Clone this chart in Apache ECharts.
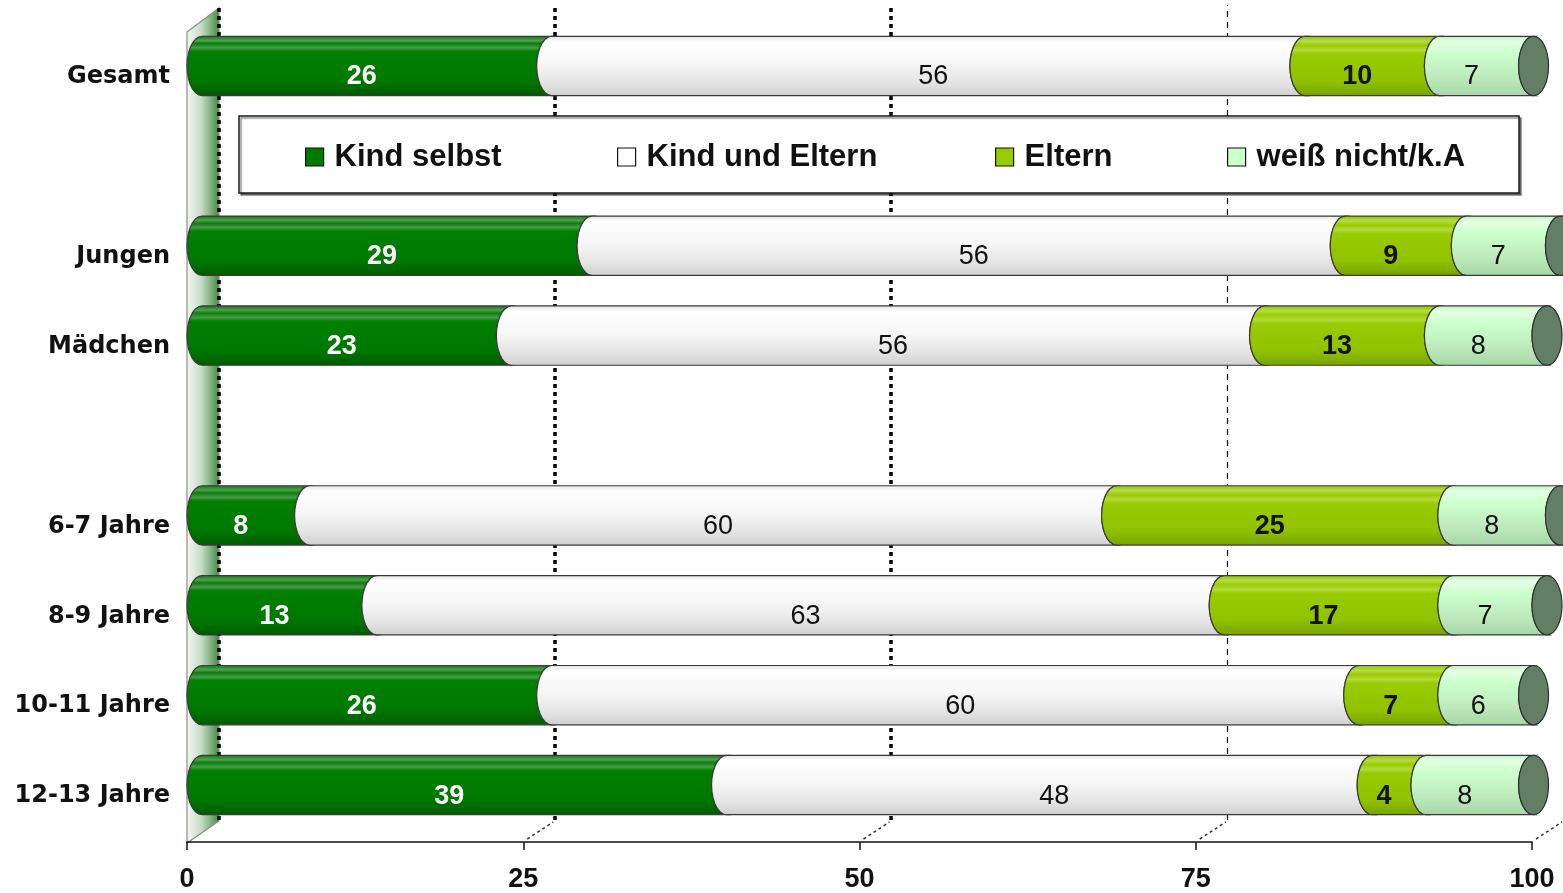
<!DOCTYPE html>
<html>
<head>
<meta charset="utf-8">
<title>Kind selbst / Kind und Eltern / Eltern</title>
<script src="https://cdn.jsdelivr.net/npm/echarts@6/dist/echarts.min.js"></script>
<style>
  html, body { margin: 0; padding: 0; background: #ffffff; }
  #chart { width: 1563px; height: 893px; }
</style>
</head>
<body>
<div id="chart"></div>
<script>
// ---- data ----
const categories = ['Gesamt', ' ', 'Jungen', 'Mädchen', '  ', '6-7 Jahre', '8-9 Jahre', '10-11 Jahre', '12-13 Jahre'];
const seriesNames = ['Kind selbst', 'Kind und Eltern', 'Eltern', 'weiß nicht/k.A'];
const kindSelbst    = [26, null, 29, 23, null, 8, 13, 26, 39];
const kindUndEltern = [56, null, 56, 56, null, 60, 63, 60, 48];
const eltern        = [10, null, 9, 13, null, 25, 17, 7, 4];
const weissNicht    = [7, null, 7, 8, null, 8, 7, 6, 8];
const xTicks = [0, 25, 50, 75, 100];

// ---- styling ----
const seriesValues = [kindSelbst, kindUndEltern, eltern, weissNicht];
const legendColors = ['#007a00', '#ffffff', '#99cc00', '#ccffcc'];
const fills = [
  [[0, '#0f760f'], [0.08, '#4f9f4f'], [0.13, '#0a7f0a'], [0.2, '#479c47'], [0.26, '#018001'], [0.75, '#007800'], [1, '#005a00']],
  [[0, '#e2e2e2'], [0.1, '#ffffff'], [0.45, '#f7f7f7'], [0.78, '#e4e4e4'], [1, '#cfcfcf']],
  [[0, '#8cbf00'], [0.09, '#b6dc45'], [0.16, '#9acb00'], [0.24, '#b2da3c'], [0.3, '#99cc00'], [0.75, '#90c200'], [1, '#75a300']],
  [[0, '#bfeebf'], [0.1, '#e4ffe4'], [0.3, '#ccffcc'], [0.72, '#bce8bc'], [1, '#a6d6a6']]
];
const labelStyles = [
  { fill: '#ffffff', weight: 'bold', dx: 0 },
  { fill: '#111111', weight: 'normal', dx: 20 },
  { fill: '#111111', weight: 'bold', dx: 0 },
  { fill: '#111111', weight: 'normal', dx: 0 }
];
const capColor = '#627f66';
const FONT = '"Liberation Sans", Arial, sans-serif';

// Stack the segments: each item is [categoryIndex, start, end, value]
const stacked = seriesValues.map(() => []);
categories.forEach((c, i) => {
  let acc = 0;
  seriesValues.forEach((vals, s) => {
    const v = vals[i];
    if (v == null) return;
    stacked[s].push([i, acc, acc + v, v]);
    acc += v;
  });
});

const RX = 15; // horizontal radius of the cylinder's elliptical ends

function arcPoints(x, top, bot, downward) {
  const mid = (top + bot) / 2, ry = (bot - top) / 2, pts = [];
  const n = 14;
  for (let k = 0; k <= n; k++) {
    const t = downward ? -Math.PI / 2 + Math.PI * k / n : Math.PI / 2 - Math.PI * k / n;
    pts.push([x + RX - RX * Math.cos(t), mid + ry * Math.sin(t)]);
  }
  return pts;
}

function makeRenderItem(sIdx) {
  return function (params, api) {
    const cat = api.value(0), s = api.value(1), e = api.value(2), v = api.value(3);
    const p0 = api.coord([s, cat]);
    const p1 = api.coord([e, cat]);
    const h = api.size([0, 1])[1] * 0.66;
    const top = p0[1] - h / 2, bot = p0[1] + h / 2, mid = p0[1];
    const pts = arcPoints(p0[0], top, bot, true).concat(arcPoints(p1[0], top, bot, false));
    const children = [{
      type: 'polygon',
      shape: { points: pts },
      style: {
        fill: new echarts.graphic.LinearGradient(0, 0, 0, 1, fills[sIdx].map(st => ({ offset: st[0], color: st[1] }))),
        stroke: '#3a3a3a',
        lineWidth: 1.2
      }
    }];
    if (sIdx === seriesValues.length - 1) {
      children.push({
        type: 'ellipse',
        shape: { cx: p1[0] + RX, cy: mid, rx: RX, ry: h / 2 },
        style: { fill: capColor, stroke: '#2f2f2f', lineWidth: 1.2 }
      });
    }
    const ls = labelStyles[sIdx];
    children.push({
      type: 'text',
      style: {
        text: String(v),
        x: (p0[0] + p1[0]) / 2 + ls.dx,
        y: mid + 11,
        fill: ls.fill,
        font: ls.weight + ' 27px ' + FONT,
        align: 'center',
        verticalAlign: 'middle'
      }
    });
    return { type: 'group', children };
  };
}

const legendLefts = [300, 612, 990, 1222];

const chart = echarts.init(document.getElementById('chart'), null, { renderer: 'canvas' });

const option = {
  backgroundColor: '#ffffff',
  animation: false,
  grid: [
    { left: 187, right: 31, top: 21, bottom: 62 },           // bar front plane
    { left: 219, width: 1345, top: 5, height: 815 }          // back wall for gridlines
  ],
  xAxis: [{
    gridIndex: 0, type: 'value', min: 0, max: 100, interval: 25, offset: 12,
    axisLine: { show: true, lineStyle: { color: '#111', width: 1.6 } },
    axisTick: { show: true, length: 8, lineStyle: { color: '#111', width: 1.5 } },
    axisLabel: { color: '#111', fontFamily: FONT, fontWeight: 'bold', fontSize: 27, margin: 24 },
    splitLine: { show: false }
  }, {
    gridIndex: 1, type: 'value', min: 0, max: 100, interval: 25, show: false
  }],
  yAxis: [{
    gridIndex: 0, type: 'category', inverse: true, data: categories,
    axisLine: { show: false }, axisTick: { show: false },
    axisLabel: {
      color: '#111', fontFamily: '"DejaVu Sans", sans-serif', fontWeight: 'bold', fontSize: 24,
      margin: 17, verticalAlign: 'top', lineHeight: 22
    }
  }, {
    gridIndex: 1, type: 'value', min: 0, max: 1, show: false
  }],
  legend: seriesNames.map((name, i) => ({
    data: [{ name, itemStyle: { color: legendColors[i], borderColor: '#111', borderWidth: 1.2 } }],
    left: legendLefts[i], top: 135,
    icon: 'rect', itemWidth: 18, itemHeight: 18, itemGap: 0,
    selectedMode: false, z: 6,
    textStyle: { color: '#111', fontFamily: FONT, fontWeight: 'bold', fontSize: 31, lineHeight: 34, padding: [0, 0, 0, 6] }
  })),
  series: [{
    type: 'scatter', xAxisIndex: 1, yAxisIndex: 1, data: [[0, 0]], symbolSize: 0, silent: true, z: 1,
    markLine: {
      silent: true, symbol: 'none', label: { show: false }, animation: false, z: 1,
      data: xTicks.filter(v => v < 100).map(v => ({
        xAxis: v,
        lineStyle: v === 75
          ? { color: '#111', width: 1.2, type: [6, 5] }
          : { color: '#000', width: 3.5, type: [4, 4] }
      }))
    }
  }].concat(seriesNames.map((name, s) => ({
    type: 'custom', name, z: 3,
    xAxisIndex: 0, yAxisIndex: 0,
    itemStyle: { color: legendColors[s] },
    renderItem: makeRenderItem(s),
    encode: { x: [1, 2], y: 0 },
    data: stacked[s]
  })))
};

chart.setOption(option);

// Decorations derived from the axes: side wall, floor lines, legend frame
const x0 = chart.convertToPixel({ xAxisIndex: 0 }, 0);
const depthX = 32, depthY = 22, floorY = 843, wallTop = 32;
const graphics = [{
  type: 'polygon', z: 0, silent: true,
  shape: { points: [[x0, wallTop], [x0 + depthX, wallTop - depthY - 2], [x0 + depthX, floorY - depthY], [x0, floorY]] },
  style: {
    fill: new echarts.graphic.LinearGradient(0, 0, 1, 0, [
      { offset: 0, color: '#f6f9f6' }, { offset: 0.45, color: '#c6dcc6' }, { offset: 1, color: '#3f873f' }
    ]),
    stroke: '#8c8c8c', lineWidth: 1.2
  }
}];
xTicks.filter(v => v > 0).forEach(v => {
  const x = chart.convertToPixel({ xAxisIndex: 0 }, v);
  graphics.push({
    type: 'line', z: 0, silent: true,
    shape: { x1: x + 4, y1: floorY - 4, x2: x + depthX - 2, y2: floorY - depthY + 1 },
    style: { stroke: '#333', lineWidth: 1.5, lineDash: [3, 3] }
  });
});
graphics.push({
  type: 'rect', z: 4, silent: true,
  shape: { x: 239, y: 116, width: 1280, height: 77 },
  style: { fill: '#ffffff', stroke: '#1a1a1a', lineWidth: 1.5, shadowColor: 'rgba(0,0,0,0.45)', shadowOffsetX: 2, shadowOffsetY: 2, shadowBlur: 1 }
});
chart.setOption({ graphic: graphics });
</script>
</body>
</html>
